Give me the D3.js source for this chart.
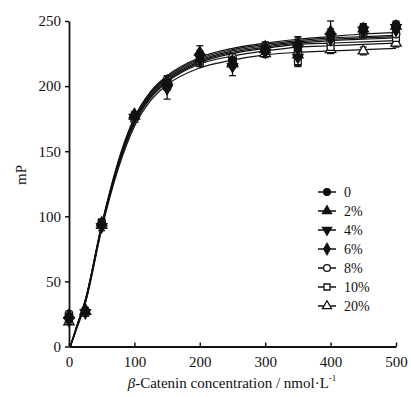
<!DOCTYPE html>
<html><head><meta charset="utf-8">
<script src="https://cdn.jsdelivr.net/npm/d3@7"></script>
<style>body{margin:0;background:#fff}svg{display:block}text{font-family:"Liberation Serif","Times New Roman",serif;fill:#111}</style>
</head><body><svg id="c" width="411" height="397"></svg>
<script>
const seriesNames = ["0","2%","4%","6%","8%","10%","20%"];
const pointX = [0,25,50,100,150,200,250,300,350,400,450,500];
const v0  = [22,27,94,177,203,224,220,229,230,240,245,247];
const v2  = [24,27,95,178,204,226,218,228,233,242,244,246];
const v4  = [20,26,92,176,198,222,215,226,222,238,243,245];
const v6  = [23,28,93,178,202,220,219,230,228,236,242,243];
const v8  = [25,27,94,176,205,219,222,231,226,234,241,240];
const v10 = [21,26,95,175,200,218,220,227,219,230,240,237];
const v20 = [19,27,93,177,203,221,217,225,224,228,227,233];
const e0  = [3,2,3,3,3,3,3,3,8,4,3,3];
const e2  = [2,2,3,2,3,5,3,3,4,8,3,3];
const e4  = [3,2,3,3,8,3,7,3,7,4,3,3];
const e6  = [2,2,2,2,3,3,3,3,3,3,3,3];
const e8  = [2,2,2,2,3,3,3,3,3,3,3,3];
const e10 = [2,2,2,2,3,3,3,3,3,3,3,3];
const e20 = [2,2,2,2,3,3,3,3,3,3,3,3];
const curveX = [2,10,25,50,75,100,125,150,200,250,300,350,400,450,500];
const c0  = [0,13,36,94,142,176,196,208,222,229,233,236,238,240,241];
const c2  = [0,13,36,93,141,175,195,207,221,228,232,235,237,238,239];
const c4  = [0,12,35,93,140,174,194,206,220,227,231,234,236,237,238];
const c6  = [0,12,35,92,139,173,193,205,219,226,230,233,235,236,237];
const c8  = [0,12,35,92,139,172,192,204,218,225,229,232,233,234,235];
const c10 = [0,12,34,91,138,171,191,203,217,223,227,230,231,232,233];
const c20 = [0,11,33,90,136,169,189,201,214,220,224,226,227,228,229];
const xTicks = [0,100,200,300,400,500];
const yTicks = [0,50,100,150,200,250];

const values = [v0,v2,v4,v6,v8,v10,v20];
const errs = [e0,e2,e4,e6,e8,e10,e20];
const curves = [c0,c2,c4,c6,c8,c10,c20];

const svg = d3.select("#c");
const x = d3.scaleLinear().domain([0,500]).range([69,396]);
const y = d3.scaleLinear().domain([0,250]).range([346.5,21]);

const line = d3.line().x((d,i)=>x(curveX[i])).y(d=>y(d)).curve(d3.curveMonotoneX);
svg.append("g").selectAll("path").data(curves).join("path")
  .attr("d", d=>line(d)).attr("fill","none").attr("stroke","#111").attr("stroke-width",1.2);

const shapes = [
  {t:d3.symbolCircle, fill:true, rot:0},
  {t:d3.symbolTriangle, fill:true, rot:0},
  {t:d3.symbolTriangle, fill:true, rot:180},
  {t:d3.symbolDiamond, fill:true, rot:0},
  {t:d3.symbolCircle, fill:false, rot:0},
  {t:d3.symbolSquare, fill:false, rot:0},
  {t:d3.symbolTriangle, fill:false, rot:0}
];
function marker(g, si, cx, cy, size){
  const s = shapes[si];
  g.append("path").attr("d", d3.symbol().type(s.t).size(size)())
    .attr("transform",`translate(${cx},${cy}) rotate(${s.rot})`)
    .attr("fill", s.fill ? "#111" : "#fff").attr("stroke","#111").attr("stroke-width",1.3);
}

const pg = svg.append("g");
values.forEach((vals,si)=>{
  vals.forEach((v,i)=>{
    const e = errs[si][i], cx = x(pointX[i]);
    pg.append("line").attr("x1",cx).attr("x2",cx).attr("y1",y(v-e)).attr("y2",y(v+e)).attr("stroke","#111").attr("stroke-width",1.3);
    [v-e,v+e].forEach(ev=>pg.append("line").attr("x1",cx-3.5).attr("x2",cx+3.5).attr("y1",y(ev)).attr("y2",y(ev)).attr("stroke","#111").attr("stroke-width",1.3));
  });
});
// open markers first, filled markers on top
const drawOrder = [6,5,4,3,2,1,0];
drawOrder.forEach(si=>{
  values[si].forEach((v,i)=>marker(pg, si, x(pointX[i]), y(v), 46));
});

const xAxis = svg.append("g").attr("transform",`translate(0,${y(0)})`)
  .call(d3.axisBottom(x).tickValues(xTicks).tickSizeInner(-4).tickSizeOuter(0).tickPadding(10));
const yAxis = svg.append("g").attr("transform",`translate(${x(0)},0)`)
  .call(d3.axisLeft(y).tickValues(yTicks).tickSizeInner(4).tickSizeOuter(0).tickPadding(4));
[xAxis,yAxis].forEach(a=>{
  a.select(".domain").attr("stroke","#111").attr("stroke-width",1.8);
  a.selectAll(".tick line").attr("stroke","#111").attr("stroke-width",1.5);
  a.selectAll(".tick text").attr("font-family","Liberation Serif, serif").attr("font-size",15).attr("fill","#333");
});

svg.append("text").attr("transform","translate(26,175) rotate(-90)").attr("text-anchor","middle")
  .attr("font-size",15).text("mP");
const xt = svg.append("text").attr("x",232).attr("y",388).attr("text-anchor","middle").attr("font-size",15);
xt.append("tspan").attr("font-style","italic").text("β");
xt.append("tspan").text("-Catenin concentration / nmol·L");
xt.append("tspan").attr("font-size",9).attr("dy",-7).text("-1");

const lg = svg.append("g");
seriesNames.forEach((n,i)=>{
  const ly = 192 + i*19;
  lg.append("line").attr("x1",318).attr("x2",336).attr("y1",ly).attr("y2",ly).attr("stroke","#111").attr("stroke-width",1.5);
  marker(lg, i, 327, ly, 36);
  lg.append("text").attr("x",344).attr("y",ly+5).attr("font-size",14).text(n);
});
</script></body></html>
